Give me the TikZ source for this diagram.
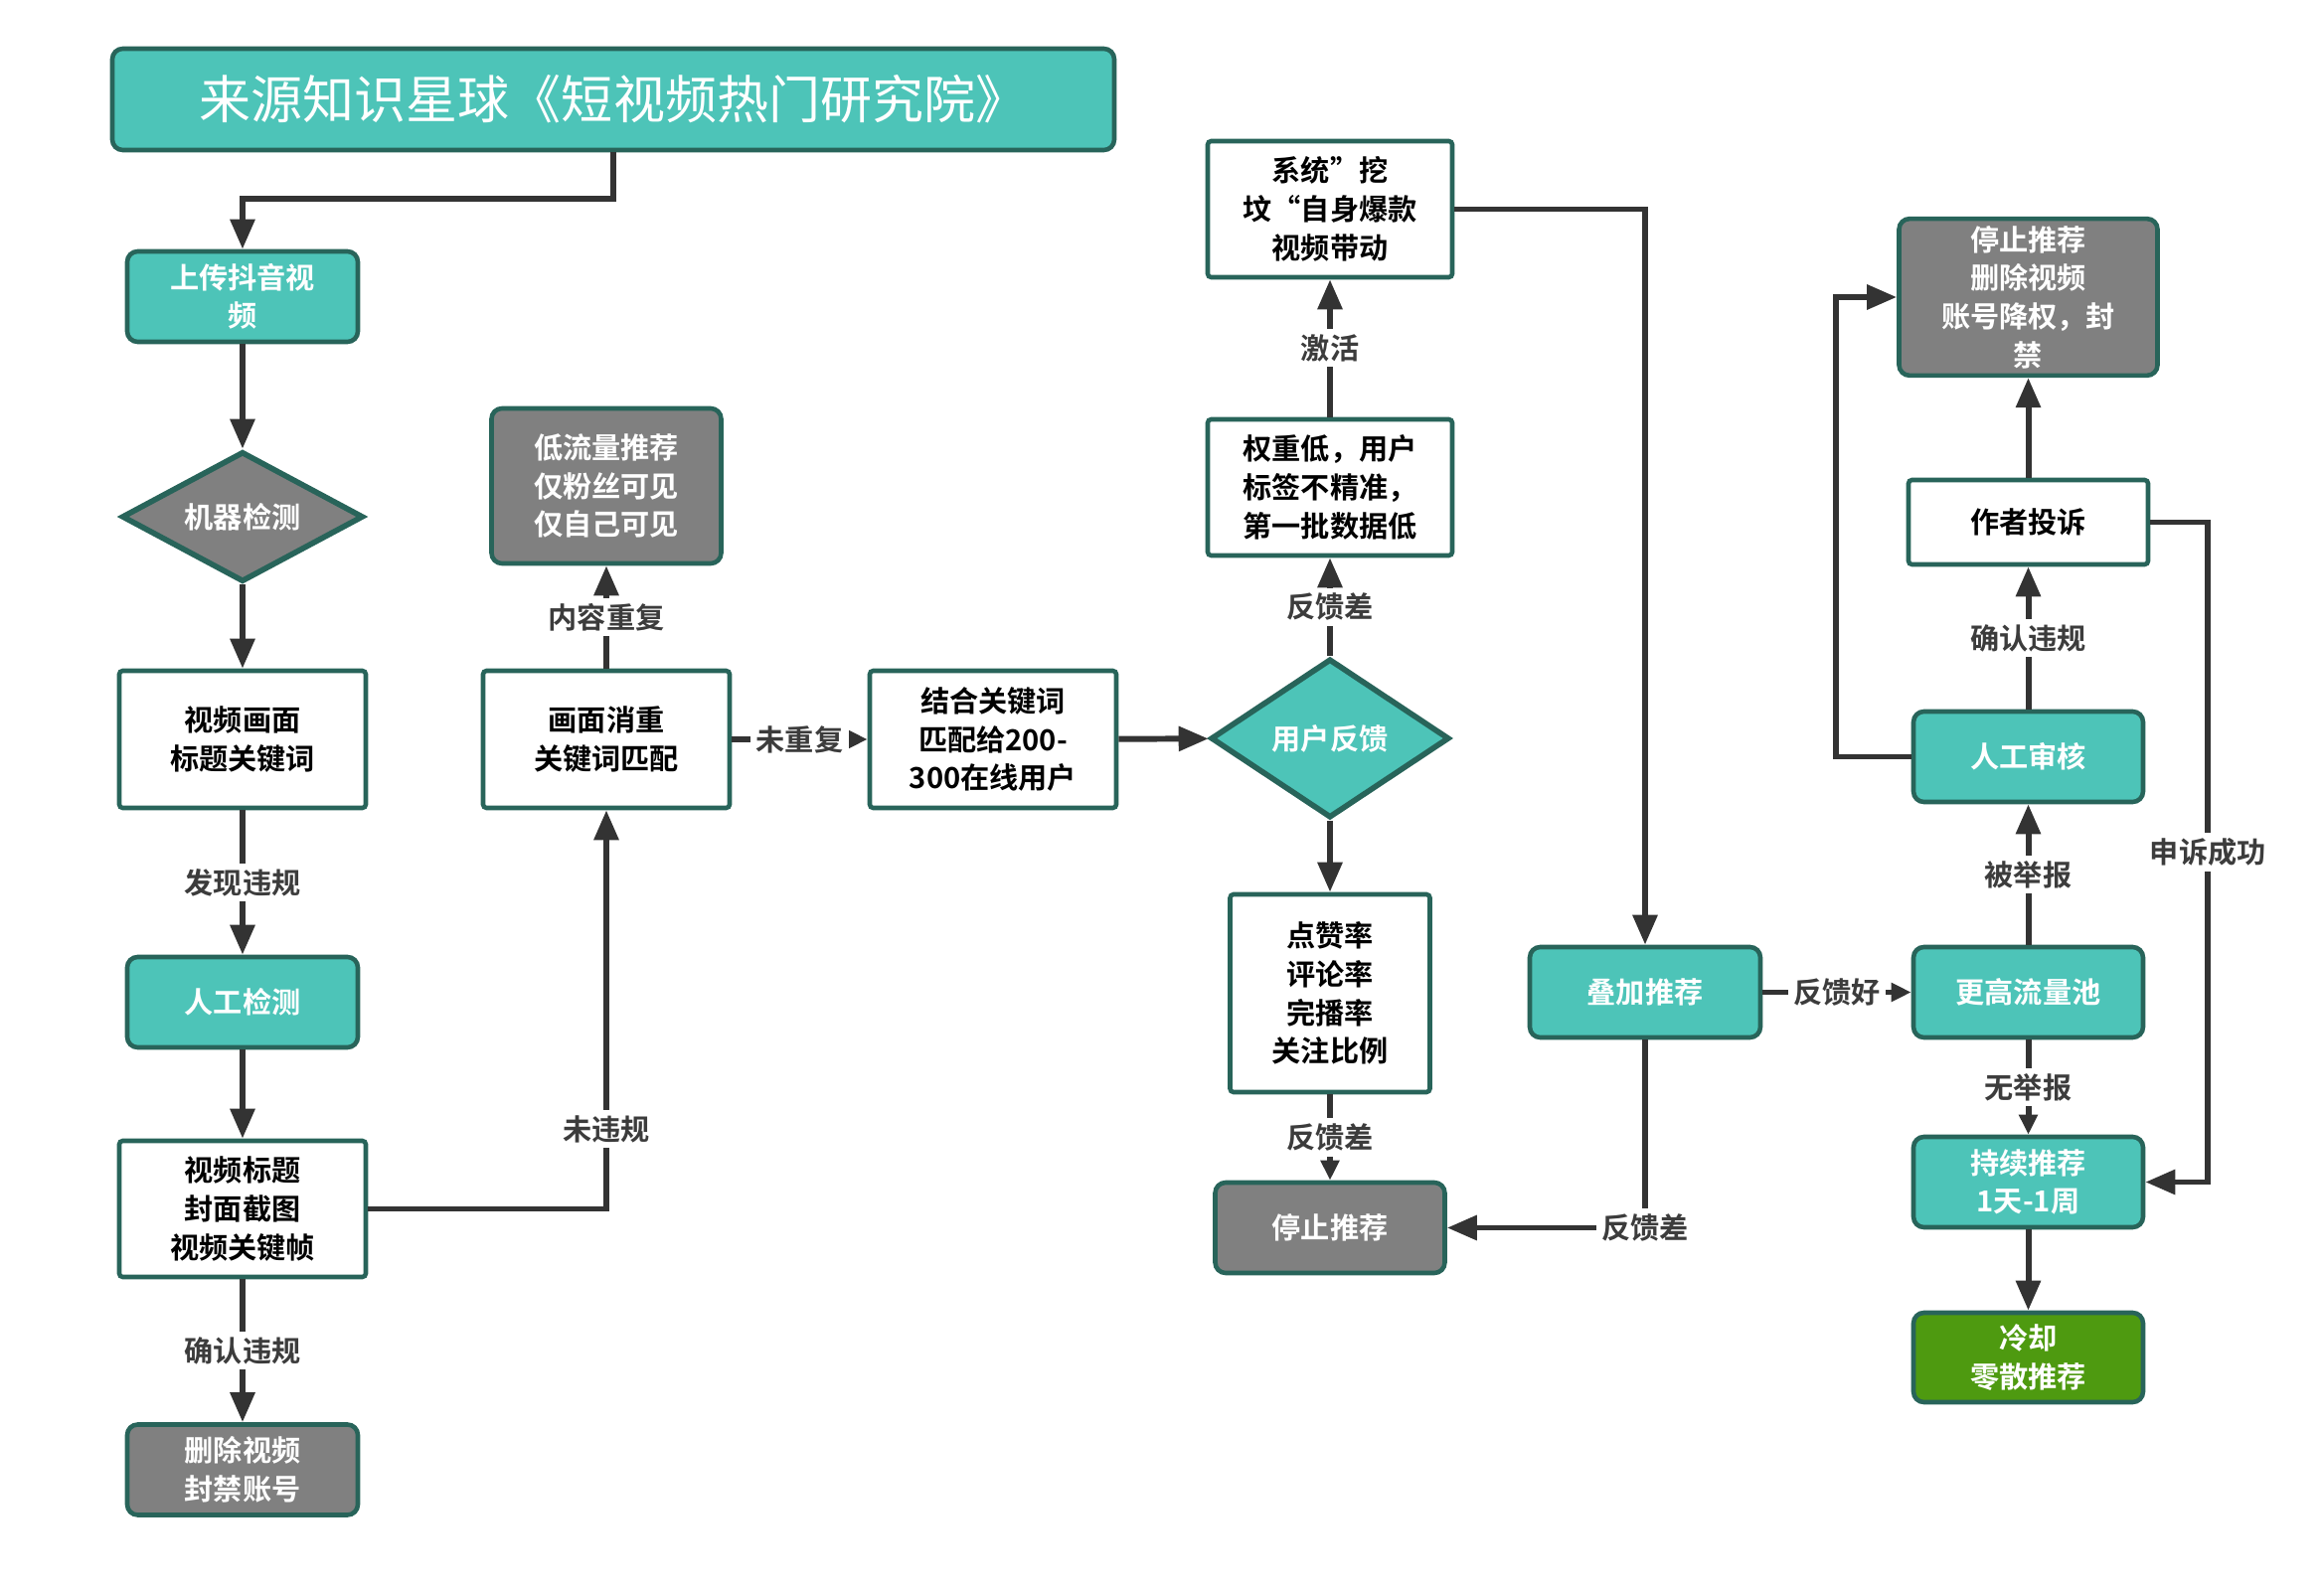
\documentclass[tikz,border=0pt]{standalone}
\usepackage{fontspec}
\setmainfont{Noto Sans CJK SC}[BoldFont={Noto Sans CJK SC Bold}]
\usetikzlibrary{arrows.meta, shapes.geometric}
\definecolor{tealfill}{HTML}{4DC4B8}
\definecolor{tealedge}{HTML}{28645A}
\definecolor{greyfill}{HTML}{808080}
\definecolor{greenfill}{HTML}{4E9A10}
\definecolor{linec}{HTML}{333333}
\definecolor{lblc}{HTML}{3C3C3C}

\begin{document}
\begin{tikzpicture}[
  box/.style={rectangle, draw=tealedge, line width=1.3pt, rounded corners=1pt, align=center, inner sep=2pt, font=\fontsize{8.3}{11}\selectfont\bfseries},
  plain/.style={box, fill=white, text=black, minimum width=2.48cm, minimum height=1.38cm},
  act/.style={box, rounded corners=3pt, fill=tealfill, text=white, minimum width=2.32cm, minimum height=0.91cm},
  stopbox/.style={act, fill=greyfill},
  endbox/.style={act, fill=greenfill},
  check/.style={diamond, draw=tealedge, line width=1.6pt, text=white, inner sep=0pt, font=\fontsize{8.3}{11}\selectfont\bfseries},
  arrow/.style={-{Triangle[length=3mm, width=2.4mm]}, line width=1.7pt, draw=linec},
  shortarrow/.style={-{Triangle[length=2mm, width=1.8mm]}, line width=1.7pt, draw=linec},
  lbl/.style={fill=white, inner sep=1.5pt, text=lblc, font=\fontsize{8.3}{11}\selectfont\bfseries}
]
\useasboundingbox[fill=white] (0,0) rectangle (23.38,-16);

% 标题
\node[act, minimum width=10.08cm, minimum height=1.02cm, font=\fontsize{14.8}{17}\selectfont] (title) at (6.17,-1.00) {来源知识星球《短视频热门研究院》};

% 审核
\node[act] (upload) at (2.44,-2.985) {上传抖音视\\频};
\node[check, fill=greyfill, aspect=1.85, minimum width=2.43cm, minimum height=1.31cm] (machine) at (2.44,-5.20) {机器检测};
\node[plain] (scan) at (2.44,-7.44) {视频画面\\标题关键词};
\node[act] (manual) at (2.44,-10.085) {人工检测};
\node[plain, minimum height=1.37cm] (frames) at (2.44,-12.165) {视频标题\\封面截图\\视频关键帧};
\node[stopbox] (ban) at (2.44,-14.79) {删除视频\\封禁账号};

% 消重
\node[plain] (dedup) at (6.10,-7.44) {画面消重\\关键词匹配};
\node[stopbox, minimum width=2.31cm, minimum height=1.56cm] (lowflow) at (6.10,-4.89) {低流量推荐\\仅粉丝可见\\仅自己可见};
\node[plain] (match) at (9.99,-7.44) {结合关键词\\匹配给200-\\300在线用户};

% 反馈
\node[check, fill=tealfill, aspect=1.5, minimum width=2.40cm, minimum height=1.60cm] (feedback) at (13.38,-7.43) {用户反馈};
\node[plain, minimum width=2.46cm, minimum height=1.37cm] (lowweight) at (13.38,-4.905) {权重低，用户\\标签不精准，\\第一批数据低};
\node[plain, minimum width=2.46cm, minimum height=1.37cm] (dig) at (13.38,-2.105) {系统”挖\\坟“自身爆款\\视频带动};
\node[plain, minimum width=2.01cm, minimum height=1.99cm] (rates) at (13.38,-9.995) {点赞率\\评论率\\完播率\\关注比例};
\node[stopbox, minimum width=2.31cm] (stop) at (13.38,-12.355) {停止推荐};

% 推荐
\node[act] (boost) at (16.55,-9.985) {叠加推荐};
\node[act, minimum width=2.31cm] (pool) at (20.405,-9.985) {更高流量池};
\node[act, minimum width=2.31cm] (keep) at (20.405,-11.895) {持续推荐\\1天-1周};
\node[endbox, minimum width=2.31cm, minimum height=0.90cm] (cool) at (20.405,-13.66) {冷却\\零散推荐};
\node[act, minimum width=2.31cm] (review) at (20.405,-7.615) {人工审核};
\node[plain, minimum width=2.41cm, minimum height=0.85cm] (appeal) at (20.405,-5.255) {作者投诉};
\node[stopbox, minimum width=2.60cm, minimum height=1.56cm] (punish) at (20.405,-2.99) {停止推荐\\删除视频\\账号降权，封\\禁};

% 连线
\draw[arrow] (title.south) -- ++(0,-0.47) -| (upload.north);
\draw[arrow] (upload) -- (machine);
\draw[arrow] (machine) -- (scan);
\draw[arrow] (scan) -- node[lbl] {发现违规} (manual);
\draw[arrow] (manual) -- (frames);
\draw[arrow] (frames) -- node[lbl] {确认违规} (ban);
\draw[arrow] (frames.east) -| node[lbl, pos=0.6] {未违规} (dedup.south);
\draw[arrow] (dedup) -- node[lbl] {内容重复} (lowflow);
\draw[shortarrow] (dedup) -- node[lbl] {未重复} (match);
\draw[arrow] (match) -- (feedback);
\draw[arrow] (feedback) -- node[lbl] {反馈差} (lowweight);
\draw[arrow] (lowweight) -- node[lbl] {激活} (dig);
\draw[arrow] (feedback) -- (rates);
\draw[shortarrow] (rates) -- node[lbl] {反馈差} (stop);
\draw[arrow] (dig.east) -| (boost.north);
\draw[arrow] (boost.south) |- node[lbl, pos=0.5] {反馈差} (stop.east);
\draw[shortarrow] (boost) -- node[lbl] {反馈好} (pool);
\draw[shortarrow] (pool) -- node[lbl] {无举报} (keep);
\draw[arrow] (keep) -- (cool);
\draw[arrow] (pool) -- node[lbl] {被举报} (review);
\draw[arrow] (review) -- node[lbl] {确认违规} (appeal);
\draw[arrow] (appeal) -- (punish);
\draw[arrow] (review.west) -- ++(-0.76,0) |- (punish.west);
\draw[arrow] (appeal.east) -- ++(0.58,0) |- node[lbl, pos=0.25] {申诉成功} (keep.east);

\end{tikzpicture}
\end{document}
